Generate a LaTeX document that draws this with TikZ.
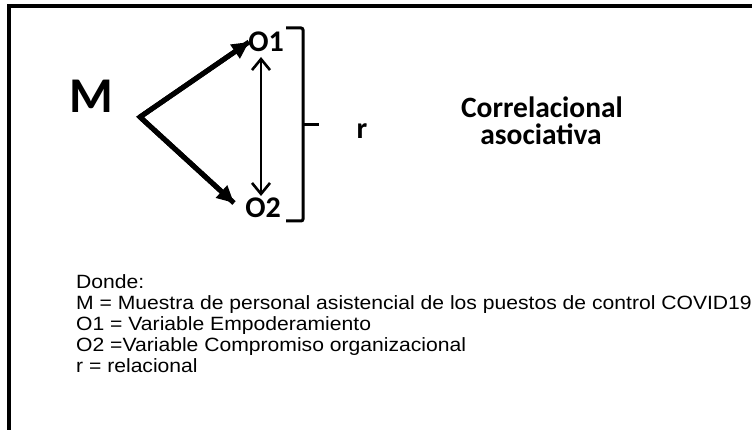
\documentclass[tikz,border=0pt]{standalone}
\usepackage{fontspec}
\setmainfont{Liberation Sans}
\newfontfamily\calib{Carlito}
\newfontfamily\legendfont[FakeStretch=1.1]{Liberation Sans}
\usetikzlibrary{arrows.meta}
\tikzset{
  boldtxt/.style={font=\calib\bfseries\fontsize{30}{30}\selectfont, inner sep=0pt, anchor=base},
  plaintxt/.style={font=\legendfont\fontsize{19.2}{21}\selectfont, inner sep=0pt, anchor=base west},
  thickarrow/.style={line width=5pt, -{Triangle[length=17pt,width=16pt]}},
  dblarrow/.style={line width=2.4pt, {Straight Barb[length=11pt,width=18pt,line width=2.6pt]}-{Straight Barb[length=11pt,width=18pt,line width=2.6pt]}},
  bracketline/.style={line width=3pt, rounded corners=2pt},
}
\begin{document}
\begin{tikzpicture}[x=1pt,y=-1pt]
\useasboundingbox (0,0) rectangle (752,430);
\fill[white] (0,0) rectangle (752,430);
% frame
\draw[line width=3.5pt] (9,450) -- (9,6) -- (770,6);
% nodes
\node[boldtxt, font=\calib\bfseries\fontsize{50}{50}\selectfont] (M) at (91,113) {M};
\node[boldtxt] (O1) at (266,52) {O1};
\node[boldtxt] (O2) at (263,218) {O2};
\node[boldtxt] (r) at (362,139) {r};
\node[boldtxt, font=\calib\bfseries\fontsize{29.5}{30}\selectfont] (c1) at (542,118) {Correlacional};
\node[boldtxt, font=\calib\bfseries\fontsize{29.5}{30}\selectfont] (c2) at (541,145) {asociativa};
% arrows
\coordinate (V) at (140,117);
\coordinate (t1) at (249,42);
\coordinate (t2) at (234,203);
\draw[line width=5pt, miter limit=10] (t1) -- (V) -- (t2);
\draw[thickarrow] (V) -- (t1);
\draw[thickarrow] (V) -- (t2);
\coordinate (d1) at (261,57);
\coordinate (d2) at (261,196);
\draw[dblarrow] (d1) -- (d2);
% bracket
\coordinate (b1) at (286,28);
\coordinate (b2) at (286,221);
\coordinate (bm) at (319,125);
\draw[bracketline] (b1) -- (303,28) -- (303,221) -- (b2);
\draw[line width=3pt] (303,125) -- (bm);
% legend
\node[plaintxt] (l1) at (76,288) {Donde:};
\node[plaintxt] (l2) at (76,309) {M = Muestra de personal asistencial de los puestos de control COVID19};
\node[plaintxt] (l3) at (76,330) {O1 = Variable Empoderamiento};
\node[plaintxt] (l4) at (76,351) {O2 =Variable Compromiso organizacional};
\node[plaintxt] (l5) at (76,372) {r = relacional};
\end{tikzpicture}
\end{document}
